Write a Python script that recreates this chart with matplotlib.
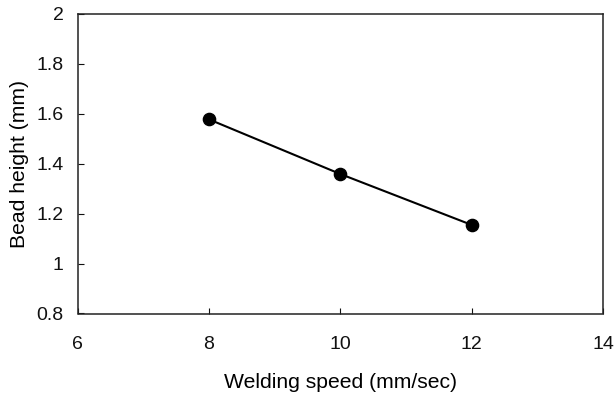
import matplotlib
matplotlib.use("Agg")
import matplotlib.pyplot as plt

speed = [8, 10, 12]
bead_height = [1.578, 1.359, 1.155]
xticks = [6, 8, 10, 12, 14]
yticks = [0.8, 1.0, 1.2, 1.4, 1.6, 1.8, 2.0]
ytick_labels = ["0.8", "1", "1.2", "1.4", "1.6", "1.8", "2"]

plt.rcParams['font.family'] = ['Liberation Sans', 'DejaVu Sans']
fig = plt.figure(figsize=(6.16, 3.97), dpi=100)
ax = fig.add_axes([77.5/616, 1 - 313.5/397, (603-77.5)/616, (313.5-14)/397])
ax.plot(speed, bead_height, color='black', lw=1.5, marker='o', ms=8.8)
ax.set_xlim(6, 14)
ax.set_ylim(0.8, 2)
ax.set_xticks(xticks)
ax.set_yticks(yticks)
ax.set_yticklabels(ytick_labels)
ax.tick_params(direction='in', length=4, labelsize=14, width=0.8, colors='#111111')
ax.tick_params(axis='y', pad=10)
ax.tick_params(axis='x', pad=16.5)
for s in ax.spines.values():
    s.set_linewidth(1.1)
    s.set_color('#222222')
ax.set_xlabel('Welding speed (mm/sec)', fontsize=15.2, labelpad=14)
ax.set_ylabel('Bead height (mm)', fontsize=15.2, labelpad=5)
fig.savefig('out.png', dpi=100)
